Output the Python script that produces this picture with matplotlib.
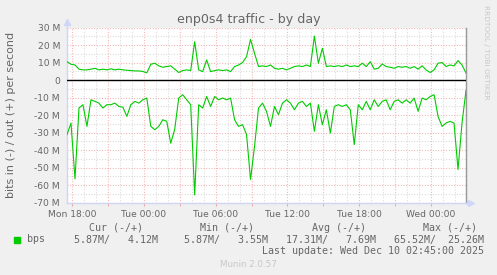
"""
Munin style traffic graph: enp0s4 traffic - by day
"""

import matplotlib

matplotlib.use("Agg")
import matplotlib.pyplot as plt
import pandas as pd
from matplotlib.patches import Rectangle

# Sampled every 20 minutes starting Mon 17:35 (values in Mbit/s)
BPS_OUT = [
    10.6, 9.1, 8.7, 6.3, 5.9, 5.9, 6.3, 6.8, 5.9, 6.3, 5.9, 6.5, 5.9,
    6.3, 5.9, 5.7, 5.5, 5.3, 5.3, 5.0, 4.2, 9.1, 9.7, 8.2, 7.4, 7.8,
    8.2, 6.3, 4.4, 5.5, 5.9, 5.5, 22.0, 5.9, 4.9, 11.6, 4.9, 5.5, 5.9,
    5.5, 5.9, 4.9, 7.8, 8.7, 10.1, 13.5, 23.3, 15.4, 7.8, 8.2, 7.8,
    8.7, 6.8, 6.3, 6.8, 5.9, 6.8, 7.8, 8.2, 7.8, 8.7, 7.8, 25.2, 9.7,
    18.2, 7.8, 8.2, 7.8, 8.3, 7.8, 8.7, 7.8, 8.2, 7.8, 9.7, 7.8,
    10.6, 6.3, 6.8, 9.3, 7.8, 7.4, 6.8, 7.8, 7.4, 7.8, 6.8, 7.8, 6.3,
    8.2, 5.9, 4.4, 5.9, 9.7, 10.1, 7.8, 8.7, 8.2, 11.2, 8.7, 4.12,
]
BPS_IN = [
    31.1, 24.5, 56.4, 15.9, 14.0, 26.4, 11.2, 12.1, 13.1, 15.9, 14.0, 14.0, 13.1,
    15.0, 15.4, 20.7, 14.0, 12.1, 13.1, 11.2, 10.2, 26.4, 28.3, 26.4, 22.6, 23.5,
    36.0, 28.0, 10.2, 8.3, 11.2, 14.0, 65.5, 14.0, 15.9, 9.3, 15.0, 9.3, 11.2,
    10.2, 11.2, 10.2, 22.6, 26.4, 25.4, 31.1, 56.7, 37.8, 15.9, 13.1, 17.8,
    26.4, 15.0, 19.7, 13.1, 11.2, 13.1, 16.9, 13.1, 12.1, 15.0, 13.1, 29.2, 14.0,
    25.4, 16.9, 30.2, 15.0, 14.0, 15.0, 14.0, 16.9, 36.8, 14.0, 16.9, 12.1,
    16.9, 11.2, 15.0, 12.1, 11.2, 16.9, 12.1, 11.2, 13.1, 11.2, 13.1, 10.2, 17.8,
    10.2, 11.2, 9.3, 8.3, 20.7, 26.4, 24.5, 23.5, 24.5, 51.0, 24.5, 5.87,
]

Y_TICKS = [30, 20, 10, 0, -10, -20, -30, -40, -50, -60, -70]
Y_TICK_LABELS = ["30 M", "20 M", "10 M", "0", "-10 M", "-20 M", "-30 M",
                 "-40 M", "-50 M", "-60 M", "-70 M"]
X_TICKS = ["2025-12-08 18:00", "2025-12-08 21:00", "2025-12-09 00:00",
           "2025-12-09 03:00", "2025-12-09 06:00", "2025-12-09 09:00",
           "2025-12-09 12:00", "2025-12-09 15:00", "2025-12-09 18:00",
           "2025-12-09 21:00", "2025-12-10 00:00"]
X_TICK_LABELS = ["Mon 18:00", "", "Tue 00:00", "", "Tue 06:00", "",
                 "Tue 12:00", "", "Tue 18:00", "", "Wed 00:00"]

LEGEND_HEADERS = ["Cur (-/+)", "Min (-/+)", "Avg (-/+)", "Max (-/+)"]
LEGEND_VALUES = ["5.87M/   4.12M", "5.87M/   3.55M", "17.31M/   7.69M", "65.52M/  25.26M"]

W, H = 497, 275
FONT_COLOR = "#666666"
AXIS_COLOR = "#CFD6F8"
GREEN = "#00CC00"


def fx(px):
    return px / W


def fy(py):
    return 1 - py / H


times = pd.date_range("2025-12-08 17:35", periods=len(BPS_OUT), freq="20min")

fig = plt.figure(figsize=(W / 100, H / 100), dpi=100, facecolor="#F0F0F0")
ax = fig.add_axes([fx(67), fy(202.7), (466 - 67) / W, (202.7 - 27.7) / H])
ax.set_facecolor("white")

ax.plot(times, BPS_OUT, color=GREEN, linewidth=0.8, zorder=3)
ax.plot(times, [-v for v in BPS_IN], color=GREEN, linewidth=0.8, zorder=3)
ax.axhline(0, color="black", linewidth=1.0, zorder=4)

ax.set_xlim(times[0], times[-1])
ax.set_ylim(-70, 30)

# Grid: pink major, grey minor, both dotted
ax.set_yticks(Y_TICKS)
ax.set_yticklabels(Y_TICK_LABELS)
ax.set_yticks(range(-65, 30, 10), minor=True)
x_major = pd.to_datetime(X_TICKS)
ax.set_xticks(x_major)
ax.set_xticklabels(X_TICK_LABELS)
ax.set_xticks(pd.date_range("2025-12-08 18:00", "2025-12-10 02:00", freq="1h"), minor=True)
ax.set_axisbelow(True)
ax.grid(which="minor", color="#D4D4D4", linestyle=(0, (0.8, 1.6)), linewidth=0.8)
ax.grid(which="major", color="#F0A8A8", linestyle=(0, (0.8, 1.6)), linewidth=0.8)

ax.tick_params(axis="y", which="both", length=0, pad=5, labelsize=6.6, labelcolor=FONT_COLOR)
ax.tick_params(axis="x", which="major", length=2, color="#F0A8A8", pad=3,
               labelsize=6.6, labelcolor=FONT_COLOR)
ax.tick_params(axis="x", which="minor", length=0)

ax.spines["top"].set_visible(False)
ax.spines["left"].set_color(AXIS_COLOR)
ax.spines["bottom"].set_color(AXIS_COLOR)
ax.spines["right"].set_color("#999999")
for s in ("left", "bottom", "right"):
    ax.spines[s].set_linewidth(1.0)

# Axis arrows
ax.plot([0, 0], [1, 1.035], transform=ax.transAxes, color=AXIS_COLOR, lw=1.0, clip_on=False)
ax.plot([0], [1.035], transform=ax.transAxes, marker="^", color=AXIS_COLOR,
        markersize=5, clip_on=False)
ax.plot([1, 1.01], [0, 0], transform=ax.transAxes, color=AXIS_COLOR, lw=1.0, clip_on=False)
ax.plot([1.012], [0], transform=ax.transAxes, marker=">", color=AXIS_COLOR,
        markersize=5, clip_on=False)

# Titles
fig.text(fx(249), fy(19), "enp0s4 traffic - by day", ha="center", va="center",
         fontsize=9.1, color=FONT_COLOR)
fig.text(fx(11), fy(115.3), "bits in (-) / out (+) per second", ha="center",
         va="center", rotation=90, fontsize=8, color=FONT_COLOR)
fig.text(fx(486), fy(52), "RRDTOOL / TOBI OETIKER", ha="center", va="center",
         rotation=270, fontsize=5.3, color="#C8C8C8")

# Legend
fig.add_artist(Rectangle((fx(14), fy(243)), 6 / W, 6 / H, transform=fig.transFigure,
                         color=GREEN))
fig.text(fx(26.5), fy(239.5), "bps", ha="left", va="center", fontsize=7.2,
         family="DejaVu Sans Mono", color=FONT_COLOR)
header_x = [115.8, 227.5, 338.7, 449.7]
value_right = [158.5, 268, 375.8, 483.5]
for hx, hdr in zip(header_x, LEGEND_HEADERS):
    fig.text(fx(hx), fy(227.7), hdr, ha="center", va="center", fontsize=7.2,
             family="DejaVu Sans Mono", color=FONT_COLOR)
for vx, val in zip(value_right, LEGEND_VALUES):
    fig.text(fx(vx), fy(239.5), val, ha="right", va="center", fontsize=7.2,
             family="DejaVu Sans Mono", color=FONT_COLOR)
fig.text(fx(483.5), fy(251.3), "Last update: Wed Dec 10 02:45:00 2025", ha="right",
         va="center", fontsize=7.2, family="DejaVu Sans Mono", color=FONT_COLOR)
fig.text(fx(248), fy(264.5), "Munin 2.0.57", ha="center", va="center", fontsize=6.3,
         color="#C8C8C8")

fig.savefig("out.png", dpi=100, facecolor=fig.get_facecolor())
